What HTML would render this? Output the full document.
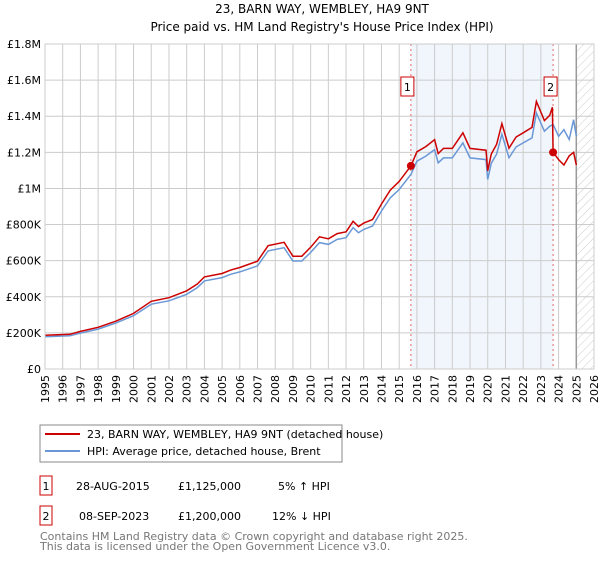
<!DOCTYPE html>
<html><head><meta charset="utf-8"><style>
body{margin:0;background:#fff;font-family:"DejaVu Sans","Liberation Sans",sans-serif;}
svg text{font-family:"DejaVu Sans","Liberation Sans",sans-serif;}
</style></head><body>
<svg width="600" height="560" xmlns="http://www.w3.org/2000/svg">
<defs><pattern id="hatch" width="6" height="6" patternUnits="userSpaceOnUse" patternTransform="rotate(45)"><line x1="0" y1="0" x2="0" y2="6" stroke="#ccc" stroke-width="1"/></pattern></defs>
<text x="322" y="13" text-anchor="middle" font-size="12">23, BARN WAY, WEMBLEY, HA9 9NT</text>
<text x="322" y="31" text-anchor="middle" font-size="12">Price paid vs. HM Land Registry's House Price Index (HPI)</text>
<g id="plot"></g>
<g>
<rect x="40" y="425" width="302" height="37" fill="#fff" stroke="#888"/>
<line x1="45" y1="434" x2="80" y2="434" stroke="#cc0000" stroke-width="2"/>
<text x="87" y="438" font-size="11">23, BARN WAY, WEMBLEY, HA9 9NT (detached house)</text>
<line x1="45" y1="451" x2="80" y2="451" stroke="#6a98d6" stroke-width="2"/>
<text x="87" y="455" font-size="11">HPI: Average price, detached house, Brent</text>
</g>
<g font-size="11">
<rect x="40" y="476" width="12" height="19" fill="#fff" stroke="#cc0000"/><text x="46" y="490" text-anchor="middle">1</text>
<text x="76" y="490">28-AUG-2015</text><text x="178" y="490">£1,125,000</text><text x="278" y="490">5% ↑ HPI</text>
<rect x="40" y="506" width="12" height="19" fill="#fff" stroke="#cc0000"/><text x="46" y="520" text-anchor="middle">2</text>
<text x="79" y="520">08-SEP-2023</text><text x="178" y="520">£1,200,000</text><text x="272" y="520">12% ↓ HPI</text>
</g>
<text x="40" y="540" font-size="11" fill="#777">Contains HM Land Registry data © Crown copyright and database right 2025.</text>
<text x="40" y="550" font-size="11" fill="#777">This data is licensed under the Open Government Licence v3.0.</text>
</svg>
<script>
const hpiYears=[1995,1996.4,1997,1998,1999,2000,2001,2002,2003,2003.6,2004,2005,2005.5,2006,2007,2007.6,2008.5,2009,2009.5,2010,2010.5,2011,2011.5,2012,2012.4,2012.7,2013,2013.5,2014,2014.5,2015,2015.66,2016,2016.5,2017,2017.2,2017.5,2018,2018.6,2019,2019.9,2020.0,2020.2,2020.5,2020.8,2021.2,2021.6,2022,2022.5,2022.75,2023.2,2023.5,2023.69,2024,2024.3,2024.6,2024.85,2025];
const hpiValues=[179,184,199,221,254,295,359,378,414,451,488,506,525,538,571,654,672,598,598,645,700,690,718,727,783,755,773,792,875,948,994,1077,1151,1179,1215,1142,1169,1169,1252,1169,1160,1050,1140,1190,1300,1170,1230,1252,1280,1418,1317,1344,1354,1289,1326,1271,1381,1289];
const propYears=[1995,1996.4,1997,1998,1999,2000,2001,2002,2003,2003.6,2004,2005,2005.5,2006,2007,2007.6,2008.5,2009,2009.5,2010,2010.5,2011,2011.5,2012,2012.4,2012.7,2013,2013.5,2014,2014.5,2015,2015.66,2016,2016.5,2017,2017.2,2017.5,2018,2018.6,2019,2019.9,2020.0,2020.2,2020.5,2020.8,2021.2,2021.6,2022,2022.5,2022.75,2023.2,2023.5,2023.65,2023.69,2024,2024.3,2024.6,2024.85,2025];
const propValues=[187,192,208,231,265,308,375,395,433,471,510,529,549,562,597,683,702,625,625,674,732,721,750,760,818,789,808,828,914,991,1039,1125,1203,1232,1270,1193,1222,1222,1308,1222,1212,1097,1191,1244,1359,1223,1285,1308,1338,1482,1376,1405,1450,1200,1160,1130,1180,1200,1130];
const saleYears=[2015.66,2023.69];
const saleValues=[1125,1200];
const saleLabels=["1","2"];
const yTicks=[0,200,400,600,800,1000,1200,1400,1600,1800];
const yTickLabels=["£0","£200K","£400K","£600K","£800K","£1M","£1.2M","£1.4M","£1.6M","£1.8M"];
const xTicks=[];for(let y=1995;y<=2026;y++)xTicks.push(y);

const X0=45,X1=594,Y0=369,Y1=44;
const xs=y=>X0+(y-1995)/(2026-1995)*(X1-X0);
const ys=v=>Y0-v/1800*(Y0-Y1);
const NS="http://www.w3.org/2000/svg";
const g=document.getElementById('plot');
function mk(t,a,p){const e=document.createElementNS(NS,t);for(const k in a)e.setAttribute(k,a[k]);(p||g).appendChild(e);return e;}
const bg=mk('rect',{x:X0,y:Y1,width:X1-X0,height:Y0-Y1,fill:'#fff'});


const sh=mk('rect',{x:xs(saleYears[0]),y:Y1,width:xs(saleYears[1])-xs(saleYears[0]),height:Y0-Y1,fill:'#eef2fb',opacity:0.8});


const ht=mk('rect',{x:xs(2025),y:Y1,width:X1-xs(2025),height:Y0-Y1,fill:'url(#hatch)'});


xTicks.forEach(t=>{const l=mk('line',{x1:xs(t),x2:xs(t),y1:Y1,y2:Y0,stroke:'#ccc','stroke-width':1});


const tx=mk('text',{x:0,y:0,'text-anchor':'end','font-size':11,transform:'translate('+(xs(t)+4)+',375) rotate(-90)'});tx.textContent=t;

});
yTicks.forEach((t,i)=>{const l=mk('line',{x1:X0,x2:X1,y1:ys(t),y2:ys(t),stroke:'#ccc','stroke-width':1});


const tx=mk('text',{x:41,y:ys(t)+4,'text-anchor':'end','font-size':11});tx.textContent=yTickLabels[i];

});
const cut=mk('line',{x1:xs(2025),x2:xs(2025),y1:Y1,y2:Y0,stroke:'#999','stroke-width':1.5});


saleYears.forEach(s=>{const l=mk('line',{x1:xs(s),x2:xs(s),y1:Y1,y2:Y0,stroke:'#e06666','stroke-width':1,'stroke-dasharray':'2,3'});

});
const pts=(xa,va)=>xa.map((x,i)=>xs(x).toFixed(1)+','+ys(va[i]).toFixed(1)).join(' ');
const hl=mk('polyline',{points:pts(hpiYears,hpiValues),fill:'none',stroke:'#6a98d6','stroke-width':1.5});


const pl=mk('polyline',{points:pts(propYears,propValues),fill:'none',stroke:'#cc0000','stroke-width':1.5});


saleYears.forEach((s,i)=>{const c=mk('circle',{cx:xs(s),cy:ys(saleValues[i]),r:4,fill:'#cc0000'});


const bx=xs(s)-(i==0?4:3);
const r=mk('rect',{x:bx-6,y:77,width:13,height:19,fill:'#fff',stroke:'#cc0000'});


const t=mk('text',{x:bx+0.5,y:91,'text-anchor':'middle','font-size':11});t.textContent=saleLabels[i];

});
const fr=mk('rect',{x:X0,y:Y1,width:X1-X0,height:Y0-Y1,fill:'none',stroke:'#ccc'});


</script>
</body></html>
